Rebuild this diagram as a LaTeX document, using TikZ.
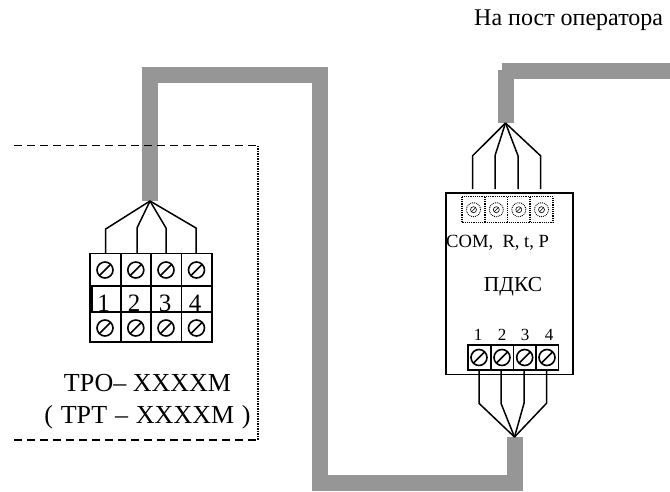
\documentclass[tikz,border=0pt]{standalone}
\usepackage{fontspec}
\setmainfont{Liberation Serif}
\definecolor{cablegray}{RGB}{150,150,150}
\tikzset{
  cable/.style={line width=16pt,cablegray},
  wire/.style={line width=1.5pt,line join=miter},
  box/.style={line width=1.6pt},
  screw/.style={circle,draw,line width=1.6pt,minimum size=16pt,inner sep=0pt,
    path picture={\draw[line width=1.6pt] (path picture bounding box.south west) -- (path picture bounding box.north east);}},
  socket/.style={circle,draw,densely dotted,line width=0.9pt,minimum size=14pt,inner sep=0pt},
  socketpin/.style={circle,draw,line width=0.6pt,minimum size=6pt,inner sep=0pt,
    path picture={\draw[line width=0.6pt] (path picture bounding box.south west) -- (path picture bounding box.north east);}},
  bignum/.style={inner sep=0pt,font=\fontsize{25}{25}\selectfont},
  smallnum/.style={inner sep=0pt,font=\fontsize{17}{17}\selectfont},
  label/.style={inner sep=0pt,font=\fontsize{18.6}{19}\selectfont},
  model/.style={inner sep=0pt,font=\fontsize{26}{26}\selectfont}
}
\begin{document}
\begin{tikzpicture}[x=1pt,y=-1pt]
    \useasboundingbox (0,0) rectangle (670,491);

    % Cables
    \draw[cable] (150.3,201) -- (150.3,75) -- (319.7,75) -- (319.7,482.7) -- (514.7,482.7) -- (514.7,436.7);
    \draw[cable] (505.8,123) -- (505.8,70);
    \draw[cable] (501.7,71) -- (670,71);

    % Sensor outline
    \draw[line width=1.5pt,dash pattern=on 8pt off 5pt] (14,145.7) -- (258,145.7);
    \draw[line width=1.5pt,dash pattern=on 8pt off 5pt] (14,440) -- (258,440);
    \draw[line width=1.5pt,densely dotted] (258,145.7) -- (258,440);

    % Left terminal block
    \draw[box] (89.7,253.3) rectangle (211.7,342);
    \draw[box] (89.7,285.7) -- (211.7,285.7);
    \draw[box] (89.7,312) -- (211.7,312);
    \draw[box] (120.7,253.3) -- (120.7,342);
    \draw[box] (151,253.3) -- (151,342);
    \draw[box] (181.3,253.3) -- (181.3,342);
    \draw[line width=3pt] (91.5,285.7) -- (91.5,312);

    \node[screw] (s1) at (105,270) {};
    \node[screw] (s2) at (135.8,270) {};
    \node[screw] (s3) at (166,270) {};
    \node[screw] (s4) at (196.5,270) {};
    \node[screw] (s5) at (105,328) {};
    \node[screw] (s6) at (135.8,328) {};
    \node[screw] (s7) at (166,328) {};
    \node[screw] (s8) at (196.5,328) {};

    \node[bignum,anchor=base] (n1) at (103.5,311) {1};
    \node[bignum,anchor=base] (n2) at (134,311) {2};
    \node[bignum,anchor=base] (n3) at (165,311) {3};
    \node[bignum,anchor=base] (n4) at (195,311) {4};

    % Left wires
    \coordinate (lapex) at (150,201);
    \coordinate (la) at (105.7,229);
    \coordinate (lb) at (137,228);
    \coordinate (lc) at (166,228);
    \coordinate (ld) at (196,228);
    \coordinate (lA) at (105.7,253.3);
    \coordinate (lB) at (137,253.3);
    \coordinate (lC) at (166,253.3);
    \coordinate (lD) at (196,253.3);
    \draw[wire] (lapex) -- (la) -- (lA);
    \draw[wire] (lapex) -- (lb) -- (lB);
    \draw[wire] (lapex) -- (lc) -- (lC);
    \draw[wire] (lapex) -- (ld) -- (lD);

    \node[model,anchor=base] (tro) at (147.5,391.5) {ТРО– ХХХХМ};
    \node[model,anchor=base] (trt) at (147.5,423) {\spaceskip=7.8pt ( ТРТ – ХХХХМ )};

    % Right unit
    \draw[box] (445.7,192.7) rectangle (572.7,374.3);
    \draw[line width=1.2pt,densely dotted] (462,196.7) rectangle (553,222.7);
    \draw[line width=1.2pt,densely dotted] (485,196.7) -- (485,222.7);
    \draw[line width=1.2pt,densely dotted] (507.5,196.7) -- (507.5,222.7);
    \draw[line width=1.2pt,densely dotted] (530,196.7) -- (530,222.7);

    \node[socket] (p1) at (473.5,209.7) {};
    \node[socket] (p2) at (496.3,209.7) {};
    \node[socket] (p3) at (518.8,209.7) {};
    \node[socket] (p4) at (541.5,209.7) {};
    \node[socketpin] at (p1) {};
    \node[socketpin] at (p2) {};
    \node[socketpin] at (p3) {};
    \node[socketpin] at (p4) {};

    \node[label,anchor=base west] (com) at (446,247) {COM,\hspace{0.5em}R, t, P};
    \node[inner sep=0pt,anchor=base,font=\fontsize{21.4}{22}\selectfont] (pdks) at (513,291.7) {ПДКС};

    % Top wires
    \coordinate (tapex) at (505.5,123);
    \coordinate (ta) at (472.7,155.7);
    \coordinate (tb) at (495,155.7);
    \coordinate (tc) at (518,155.7);
    \coordinate (td) at (540.5,155.7);
    \coordinate (tA) at (472.7,189);
    \coordinate (tB) at (495,189);
    \coordinate (tC) at (518,189);
    \coordinate (tD) at (540.5,189);
    \draw[wire] (tapex) -- (ta) -- (tA);
    \draw[wire] (tapex) -- (tb) -- (tB);
    \draw[wire] (tapex) -- (tc) -- (tC);
    \draw[wire] (tapex) -- (td) -- (tD);

    % Bottom terminal block
    \draw[box] (467.7,345) rectangle (558.3,370);
    \draw[box] (490.7,345) -- (490.7,370);
    \draw[box] (513.3,345) -- (513.3,370);
    \draw[box] (536,345) -- (536,370);
    \node[screw] (b1) at (479,357.5) {};
    \node[screw] (b2) at (502,357.5) {};
    \node[screw] (b3) at (524.7,357.5) {};
    \node[screw] (b4) at (547,357.5) {};

    \node[smallnum,anchor=base] (m1) at (478,340) {1};
    \node[smallnum,anchor=base] (m2) at (502,340) {2};
    \node[smallnum,anchor=base] (m3) at (525,340) {3};
    \node[smallnum,anchor=base] (m4) at (549,340) {4};

    % Bottom wires
    \coordinate (bapex) at (514.5,437);
    \coordinate (ba) at (479,403.3);
    \coordinate (bb) at (501,403.3);
    \coordinate (bc) at (524,403.3);
    \coordinate (bd) at (546.5,403.3);
    \coordinate (bA) at (479,370);
    \coordinate (bB) at (501,370);
    \coordinate (bC) at (524,370);
    \coordinate (bD) at (546.5,370);
    \draw[wire] (bapex) -- (ba) -- (bA);
    \draw[wire] (bapex) -- (bb) -- (bB);
    \draw[wire] (bapex) -- (bc) -- (bC);
    \draw[wire] (bapex) -- (bd) -- (bD);

    % Operator label
    \node[inner sep=0pt,anchor=base west,font=\fontsize{24}{24}\selectfont] (oper) at (474,25) {На пост оператора};
\end{tikzpicture}
\end{document}
